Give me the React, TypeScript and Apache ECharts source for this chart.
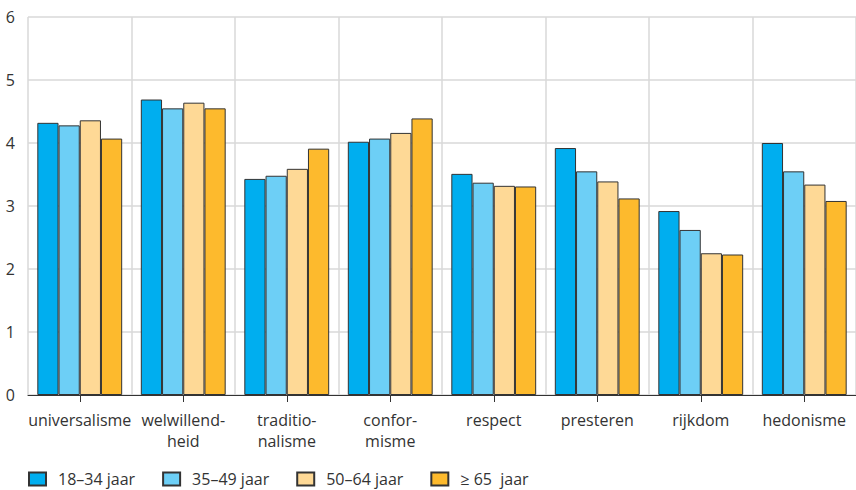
import React, { useEffect, useRef } from "react";
import * as echarts from "echarts";

const categories = [
  "universalisme",
  "welwillend-\nheid",
  "traditio-\nnalisme",
  "confor-\nmisme",
  "respect",
  "presteren",
  "rijkdom",
  "hedonisme",
];
const seriesNames = ["18–34 jaar", "35–49 jaar", "50–64 jaar", "≥ 65  jaar"];
const age18_34 = [4.32, 4.69, 3.43, 4.02, 3.51, 3.92, 2.92, 4.0];
const age35_49 = [4.28, 4.55, 3.48, 4.07, 3.37, 3.55, 2.62, 3.55];
const age50_64 = [4.36, 4.64, 3.59, 4.16, 3.32, 3.39, 2.25, 3.34];
const age65plus = [4.07, 4.55, 3.91, 4.39, 3.31, 3.12, 2.23, 3.08];
const colors = ["#00AEEF", "#6DCFF6", "#FED996", "#FDBA2D"];
const yTicks = [0, 6, 1];

export default function App() {
  const ref = useRef<HTMLDivElement>(null);
  useEffect(() => {
    if (!ref.current) return;
    const chart = echarts.init(ref.current, undefined, { renderer: "svg" });
    const data = [age18_34, age35_49, age50_64, age65plus];
    const font = "'Open Sans', 'Noto Sans', sans-serif";
    chart.setOption({
      animation: false,
      textStyle: { fontFamily: font },
      grid: { left: 28, right: -4, top: 17, bottom: 95, containLabel: false },
      legend: {
        left: 23,
        top: 466,
        icon: "rect",
        itemWidth: 17,
        itemHeight: 13,
        itemGap: 27,
        textStyle: { fontSize: 16, color: "#333", fontFamily: font, padding: [0, 0, 0, 7] },
        data: seriesNames,
      },
      xAxis: {
        type: "category",
        data: categories,
        boundaryGap: true,
        axisLine: { show: true, lineStyle: { color: "#333", width: 1 } },
        axisTick: { show: true, length: 7, alignWithLabel: true, lineStyle: { color: "#333" } },
        axisLabel: {
          interval: 0,
          margin: 14,
          fontSize: 16,
          lineHeight: 21,
          color: "#333",
          fontFamily: font,
        },
        splitLine: { show: true, lineStyle: { color: "#d9d9d9", width: 1.5 } },
      },
      yAxis: {
        type: "value",
        min: yTicks[0],
        max: yTicks[1],
        interval: yTicks[2],
        axisLine: { show: false },
        axisTick: { show: false },
        axisLabel: { margin: 13, fontSize: 16, color: "#333", fontFamily: font },
        splitLine: { show: true, lineStyle: { color: "#d9d9d9", width: 1.5 } },
      },
      series: data.map((d, i) => ({
        name: seriesNames[i],
        type: "bar",
        data: d,
        barGap: "0%",
        barCategoryGap: "18%",
        itemStyle: { color: colors[i], borderColor: "#333", borderWidth: 1 },
      })),
    });
    return () => chart.dispose();
  }, []);
  return <div ref={ref} style={{ width: 856, height: 490, position: "absolute", left: 0, top: 0 }} />;
}
